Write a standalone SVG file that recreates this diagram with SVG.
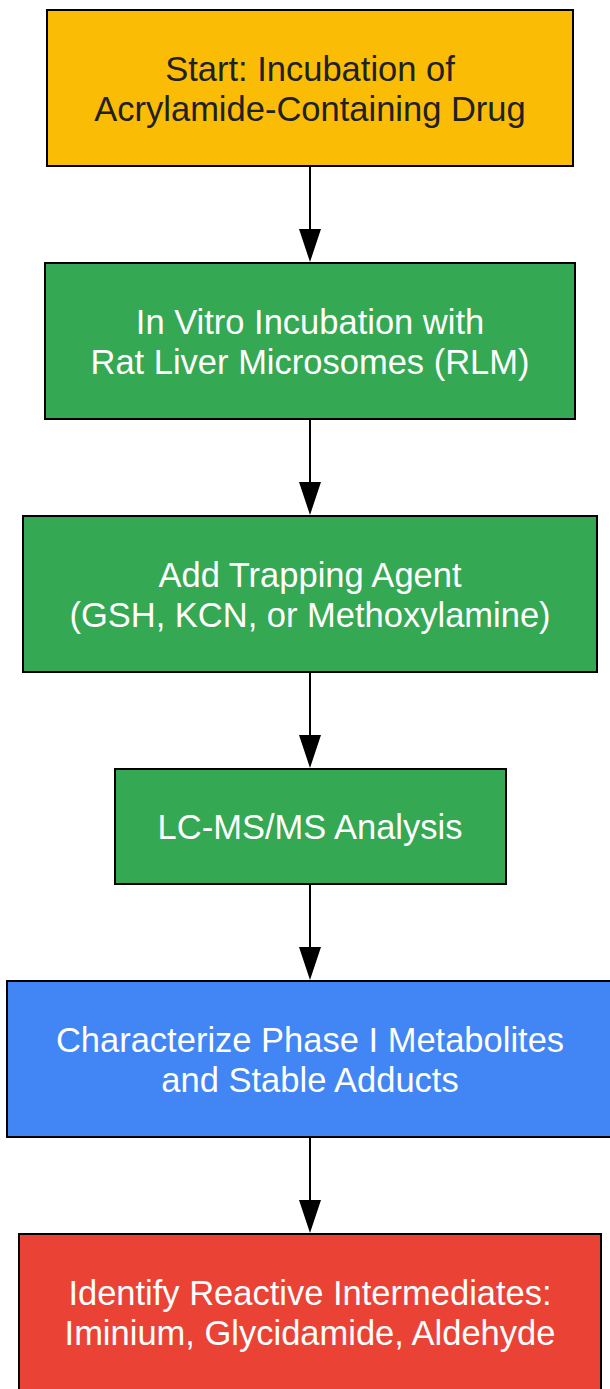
<svg xmlns="http://www.w3.org/2000/svg" width="610" height="1389" viewBox="0 0 610 1389">
<style>
.box{stroke:#000;stroke-width:2}
.t{font-family:"Liberation Sans",Arial,sans-serif;font-size:34.5px;text-anchor:middle;fill:#fff}
.dark{fill:#202124}
.edge{stroke:#000;stroke-width:2;fill:none}
.head{fill:#000}
</style>
<rect width="610" height="1389" fill="#fff"/>
<g id="edges">
<line class="edge" x1="310" y1="166" x2="310" y2="230"/><polygon class="head" points="299,229 321,229 310,262"/>
<line class="edge" x1="310" y1="419" x2="310" y2="483"/><polygon class="head" points="299,482 321,482 310,515"/>
<line class="edge" x1="310" y1="672" x2="310" y2="736"/><polygon class="head" points="299,735 321,735 310,768"/>
<line class="edge" x1="310" y1="884" x2="310" y2="948"/><polygon class="head" points="299,947 321,947 310,980"/>
<line class="edge" x1="310" y1="1137" x2="310" y2="1201"/><polygon class="head" points="299,1200 321,1200 310,1233"/>
</g>
<g id="n1">
<rect class="box" x="47" y="10" width="526" height="156" fill="#FBBC05"/>
<text class="t dark" x="310" y="81">Start: Incubation of</text>
<text class="t dark" x="310" y="121">Acrylamide-Containing Drug</text>
</g>
<g id="n2">
<rect class="box" x="45" y="263" width="530" height="156" fill="#34A853"/>
<text class="t" x="310" y="334">In Vitro Incubation with</text>
<text class="t" x="310" y="374">Rat Liver Microsomes (RLM)</text>
</g>
<g id="n3">
<rect class="box" x="23" y="516" width="574" height="156" fill="#34A853"/>
<text class="t" x="310" y="587">Add Trapping Agent</text>
<text class="t" x="310" y="627">(GSH, KCN, or Methoxylamine)</text>
</g>
<g id="n4">
<rect class="box" x="115" y="769" width="391" height="115" fill="#34A853"/>
<text class="t" x="310" y="839">LC-MS/MS Analysis</text>
</g>
<g id="n5">
<rect class="box" x="7" y="981" width="606" height="156" fill="#4285F4"/>
<text class="t" x="310" y="1052">Characterize Phase I Metabolites</text>
<text class="t" x="310" y="1092">and Stable Adducts</text>
</g>
<g id="n6">
<rect class="box" x="19" y="1234" width="582" height="160" fill="#EA4335"/>
<text class="t" x="310" y="1305">Identify Reactive Intermediates:</text>
<text class="t" x="310" y="1345">Iminium, Glycidamide, Aldehyde</text>
</g>
</svg>
